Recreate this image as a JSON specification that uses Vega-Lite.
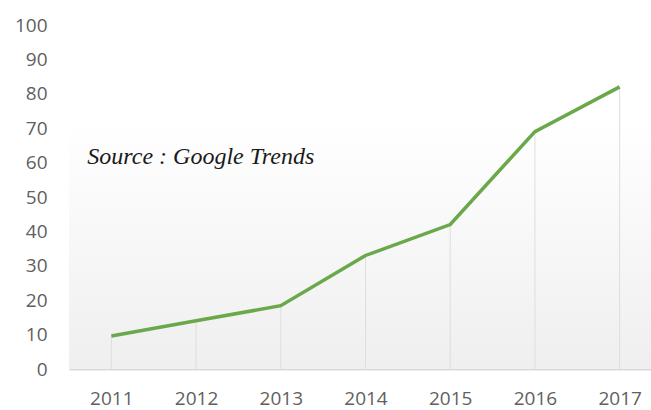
{
  "$schema": "https://vega.github.io/schema/vega-lite/v6.json",
  "width": 593,
  "height": 344,
  "autosize": "none",
  "padding": {"left": 69, "top": 25, "right": 0, "bottom": 41},
  "background": "white",
  "config": {
    "view": {"stroke": null},
    "axis": {
      "labelFont": "Open Sans",
      "labelFontSize": 19,
      "labelColor": "#5f5f5f",
      "ticks": false,
      "grid": false,
      "title": null
    }
  },
  "data": {
    "values": [
      {"year": "2011", "value": 9.6},
      {"year": "2012", "value": 14},
      {"year": "2013", "value": 18.4},
      {"year": "2014", "value": 33},
      {"year": "2015", "value": 42},
      {"year": "2016", "value": 69},
      {"year": "2017", "value": 82}
    ]
  },
  "encoding": {
    "x": {
      "field": "year",
      "type": "ordinal",
      "scale": {"type": "point", "padding": 0.5},
      "axis": {"labelAngle": 0, "domainColor": "#d9d9d9", "domainWidth": 2, "labelPadding": 20}
    },
    "y": {
      "field": "value",
      "type": "quantitative",
      "scale": {"domain": [0, 100]},
      "axis": {"values": [0, 10, 20, 30, 40, 50, 60, 70, 80, 90, 100], "domain": false, "labelPadding": 22}
    }
  },
  "layer": [
    {
      "mark": {
        "type": "rect",
        "color": {
          "gradient": "linear",
          "x1": 0, "y1": 0, "x2": 0, "y2": 1,
          "stops": [
            {"offset": 0, "color": "#ffffff"},
            {"offset": 1, "color": "#efefef"}
          ]
        }
      },
      "encoding": {
        "x": null,
        "y": {"datum": 72, "type": "quantitative"},
        "y2": {"datum": 0}
      }
    },
    {
      "mark": {"type": "rule", "color": "#dedede", "strokeWidth": 1},
      "encoding": {
        "y2": {"datum": 0}
      }
    },
    {
      "mark": {"type": "line", "color": "#6aa84a", "strokeWidth": 3.5}
    },
    {
      "data": {"values": [{"year": "2011", "value": 61.6, "label": "Source : Google Trends"}]},
      "mark": {
        "type": "text",
        "align": "left",
        "baseline": "middle",
        "dx": -24,
        "font": "Liberation Serif",
        "fontStyle": "italic",
        "fontSize": 24,
        "color": "#1a1a1a"
      },
      "encoding": {
        "text": {"field": "label"}
      }
    }
  ]
}
